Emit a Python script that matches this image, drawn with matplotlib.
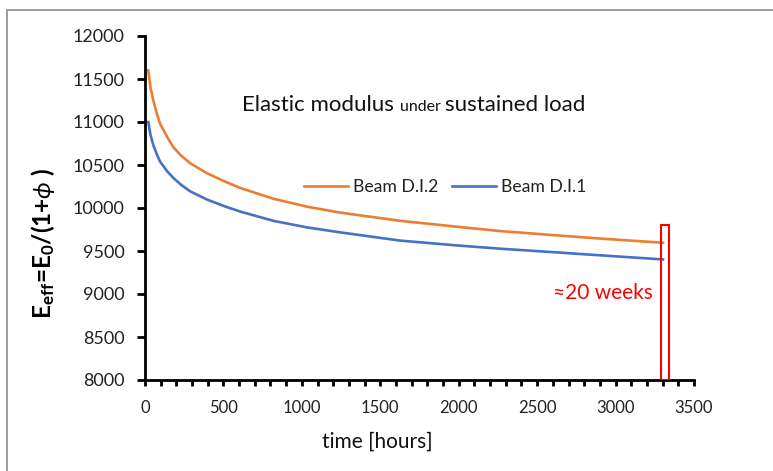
import matplotlib
matplotlib.use("Agg")
import matplotlib.pyplot as plt
from matplotlib.patches import Rectangle
from matplotlib.ticker import MultipleLocator

plt.rcParams['font.family'] = ['Lato', 'DejaVu Sans']
plt.rcParams['mathtext.fontset'] = 'custom'
plt.rcParams['mathtext.rm'] = 'Lato'
plt.rcParams['mathtext.bf'] = 'Lato:bold'
plt.rcParams['mathtext.it'] = 'Lato:italic'

# data
time_h = [21, 35, 53, 75, 96, 140, 181, 230, 287, 393, 500, 606, 818, 1031, 1243, 1626, 2000, 2263, 2600, 2900, 3302]
beam_di2 = [11600, 11400, 11249, 11100, 10981, 10830, 10706, 10610, 10522, 10407, 10315, 10234, 10108, 10016, 9947, 9851, 9780, 9732, 9685, 9645, 9596]
beam_di1 = [11000, 10850, 10732, 10625, 10540, 10430, 10349, 10270, 10195, 10100, 10025, 9959, 9851, 9775, 9717, 9621, 9563, 9527, 9487, 9450, 9402]
series_names = ["Beam D.I.2", "Beam D.I.1"]
series_colors = ["#ED7D31", "#4472C4"]
window_x = [3290, 3340]
window_y = [8000, 9800]

W, H = 773, 471
fig = plt.figure(figsize=(W / 100, H / 100), dpi=100)
ax = fig.add_axes([145 / W, 1 - 380 / H, (694 - 145) / W, (380 - 36) / H])

# outer frame
fig.add_artist(Rectangle((7 / W, -0.1), 1.2, 1 - 10 / H + 0.1, transform=fig.transFigure,
                         fill=False, edgecolor="#8c8c8c", linewidth=1.2))

ax.plot(time_h, beam_di2, color=series_colors[0], lw=1.9, label=series_names[0])
ax.plot(time_h, beam_di1, color=series_colors[1], lw=1.9, label=series_names[1])

ax.add_patch(Rectangle((window_x[0], window_y[0]), window_x[1] - window_x[0],
                       window_y[1] - window_y[0], fill=False, edgecolor="#FF0000", lw=1.5, zorder=5))

ax.set_xlim(0, 3500)
ax.set_ylim(8000, 12000)
ax.xaxis.set_major_locator(MultipleLocator(500))
ax.xaxis.set_minor_locator(MultipleLocator(100))
ax.yaxis.set_major_locator(MultipleLocator(500))

for s in ["top", "right"]:
    ax.spines[s].set_visible(False)
for s in ["left", "bottom"]:
    ax.spines[s].set_linewidth(2)
    ax.spines[s].set_color("black")

ax.tick_params(axis='both', which='major', direction='out', width=2, colors='black', labelcolor='#222222')
ax.tick_params(axis='x', which='major', length=4, labelsize=12, pad=10.5)
ax.tick_params(axis='x', which='minor', direction='out', length=4, width=2, colors='black')
ax.tick_params(axis='y', which='major', length=5.5, labelsize=13, pad=9)

ax.set_xlabel("time [hours]", fontsize=15, color='#111111')
ax.xaxis.set_label_coords((377 - 145) / (694 - 145), (380 - 432) / (380 - 36), transform=ax.transAxes)
ax.set_ylabel(r"$\mathbf{E_{eff}}$=$\mathbf{E_0}$/(1+$\phi$ )", fontsize=17.5, fontweight='bold')
ax.yaxis.set_label_coords((57 - 145) / (694 - 145), (380 - 243) / (380 - 36), transform=ax.transAxes)

# title with smaller "under"
ybase = H - 111
t1 = ax.text(242, ybase, "Elastic modulus ", transform=None, fontsize=16, color='#111111', va='baseline')
fig.canvas.draw()
bb = t1.get_window_extent()
t2 = ax.text(bb.x1, ybase, "under ", transform=None, fontsize=11.5, color='#111111', va='baseline')
fig.canvas.draw()
bb2 = t2.get_window_extent()
t3 = ax.text(bb2.x1, ybase, "sustained load", transform=None, fontsize=16, color='#111111', va='baseline')

ax.text(3238, 9010, "≈20 weeks", color="#FF0000", fontsize=15, ha='right', va='center')

leg = ax.legend(loc='center', bbox_to_anchor=((445 - 145) / (694 - 145), (380 - 187) / (380 - 36)),
                ncol=2, frameon=False, fontsize=12.7, handlelength=2.5, columnspacing=0.8,
                handletextpad=0.25)
for t in leg.get_texts():
    t.set_color('#222222')

fig.savefig("out.png", dpi=100)
